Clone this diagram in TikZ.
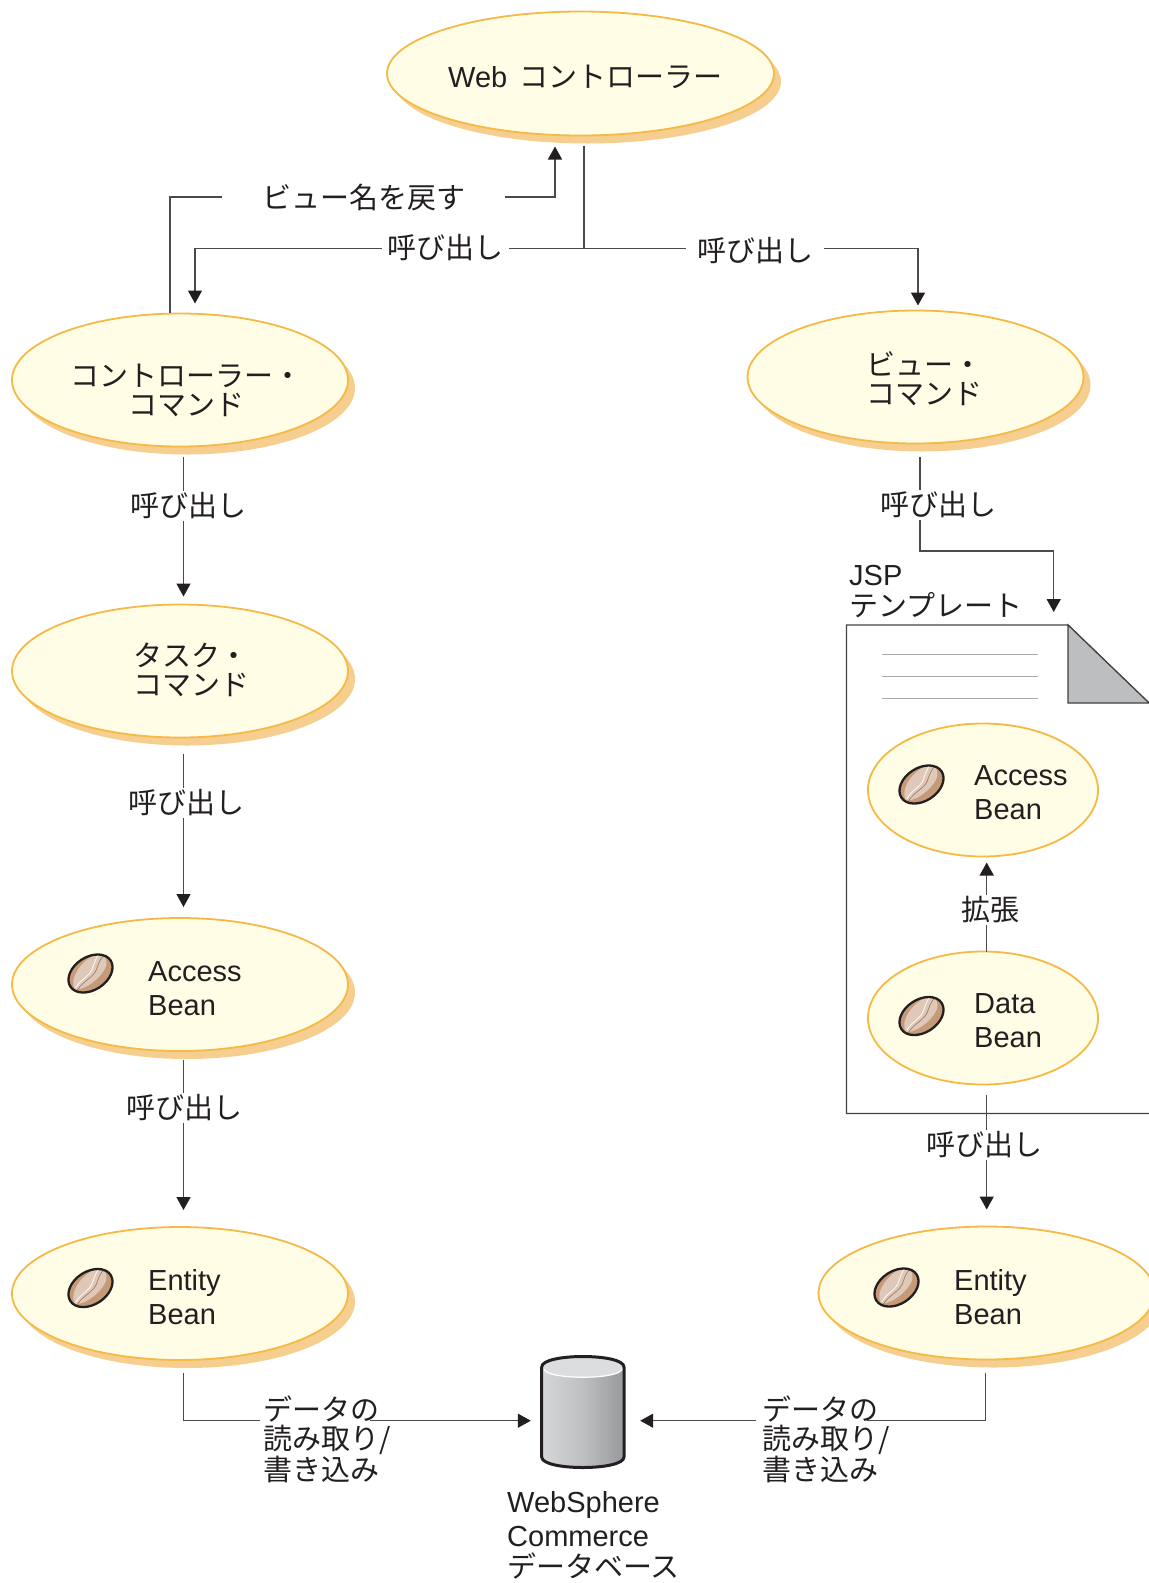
\documentclass[tikz,border=0pt]{standalone}
\usepackage{fontspec}
\setmainfont{Liberation Sans}
\newfontfamily\cjk{Noto Sans CJK JP}
\usetikzlibrary{shapes.geometric,shadows,arrows.meta,calc}
\definecolor{inkc}{HTML}{231F20}
\definecolor{linec}{HTML}{4A4A4C}
\definecolor{ovalb}{HTML}{F5B945}
\definecolor{ovalf}{HTML}{FFFDE6}
\definecolor{ovals}{HTML}{F6CF90}
\definecolor{foldc}{HTML}{BCBEC0}
\definecolor{rulec}{HTML}{A7A9AC}
\definecolor{beand}{HTML}{C49A78}
\definecolor{beanl}{HTML}{DFC8B8}
\definecolor{cylL}{HTML}{D5D7D8}
\definecolor{cylM}{HTML}{BDBFC1}
\definecolor{cylR}{HTML}{97999C}
\definecolor{lidc}{HTML}{DCDDDE}
\tikzset{
  oval/.style={ellipse,draw=ovalb,fill=ovalf,line width=1.8pt,inner sep=0pt,outer sep=0pt,
    minimum width=336pt,minimum height=133pt},
  ovalsh/.style={oval,general shadow={shadow xshift=7pt,shadow yshift=-8pt,fill=ovals}},
  inner oval/.style={oval,minimum width=230pt,minimum height=133pt},
  jp/.style={text=inkc,inner sep=0pt,font=\fontsize{29}{29}\selectfont\cjk},
  en/.style={text=inkc,inner sep=0pt,font=\fontsize{29}{34}\selectfont},
  call/.style={jp,fill=white,minimum height=30pt,inner xsep=0pt},
  conn/.style={draw=linec,line width=1.4pt},
  arr/.style={conn,-{Triangle[length=13pt,width=14pt,color=inkc]}},
  pic bean/.pic={
    \begin{scope}[rotate=33]
      \fill[beand] (0,0) ellipse [x radius=24,y radius=16.5];
      \fill[beanl] (-22,5) .. controls (-20,-10) and (4,-17) .. (18,-12)
        .. controls (24,-5) and (20,3) .. (10,6)
        .. controls (0,10) and (-15,10) .. (-22,5) -- cycle;
      \draw[white!85!beanl,line width=.9pt] (-20,4) .. controls (-10,-1) and (-3,2) .. (4,-3) .. controls (9,-7) and (13,-10) .. (18,-12);
      \draw[beand!70!inkc,line width=.6pt] (-21,7) .. controls (-10,2) and (0,5) .. (7,0) .. controls (12,-4) and (16,-7) .. (21,-8);
      \draw[inkc,line width=2.3pt] (0,0) ellipse [x radius=24,y radius=16.5];
    \end{scope}
  }
}
\begin{document}
\begin{tikzpicture}[x=1pt,y=-1pt]
\useasboundingbox (0,0) rectangle (1149,1583);
% JSP page
\draw[draw=inkc!85,line width=1.4pt,fill=white] (1149,1113.5) -- (846.5,1113.5) -- (846.5,625) -- (1068,625) -- (1149,703);
\draw[draw=inkc!85,line width=1.2pt,fill=foldc] (1068,625) -- (1068,703) -- (1149,703) -- cycle;
\draw[rulec,line width=1pt] (882,654.5) -- (1038,654.5) (882,676.5) -- (1038,676.5) (882,698) -- (1038,698);
% ovals
\node[ovalsh,minimum width=387pt,minimum height=124pt] (web) at (580.5,73.5) {};
\node[ovalsh] (ctrl) at (180,380) {};
\node[ovalsh] (view) at (915.5,377) {};
\node[ovalsh] (task) at (180,671) {};
\node[ovalsh] (accl) at (180,984.5) {};
\node[ovalsh] (entl) at (180,1293.5) {};
\node[ovalsh] (entr) at (986.5,1293) {};
\node[inner oval] (accr) at (983,790) {};
\node[inner oval] (data) at (983,1018) {};
% oval text
\node[en,anchor=west] (webt) at (448,77) {Web\hspace{12pt}{\cjk\fontsize{29}{29}\selectfont コントローラー}};
\node[jp,align=center] (ctrlt) at (186.5,390) {コントローラー・\\コマンド};
\node[jp,align=left,anchor=west] (viewt) at (866,379) {ビュー・\\コマンド};
\node[jp,align=left,anchor=west] (taskt) at (133,670) {タスク・\\コマンド};
\node[en,align=left,anchor=west] (acclt) at (148,989) {Access\\Bean};
\node[en,align=left,anchor=west] (entlt) at (148,1297) {Entity\\Bean};
\node[en,align=left,anchor=west] (entrt) at (954,1297) {Entity\\Bean};
\node[en,align=left,anchor=west] (accrt) at (974,793) {Access\\Bean};
\node[en,align=left,anchor=west] (datat) at (974,1021) {Data\\Bean};
% beans
\pic at (90.5,973.5) {pic bean};
\pic at (90.5,1288) {pic bean};
\pic at (896.5,1287.5) {pic bean};
\pic at (921.5,784.5) {pic bean};
\pic at (921.5,1016) {pic bean};
% database
\node[inner sep=0pt,minimum width=82pt,minimum height=110pt] (db) at (583,1412) {};
\shade[left color=cylL,right color=cylR,middle color=cylM] (541.7,1367) -- (541.7,1457)
  .. controls (541.7,1471) and (624,1471) .. (624,1457) -- (624,1367) -- cycle;
\fill[lidc] (541.7,1367) .. controls (541.7,1353) and (624,1353) .. (624,1367)
  .. controls (624,1381) and (541.7,1381) .. (541.7,1367) -- cycle;
\draw[white,line width=1.2pt] (544,1369) .. controls (546,1380) and (620,1380) .. (622,1369);
\draw[inkc,line width=3pt,line join=round] (541.7,1367) .. controls (541.7,1353) and (624,1353) .. (624,1367)
  -- (624,1457) .. controls (624,1471) and (541.7,1471) .. (541.7,1457) -- cycle;
\node[en,anchor=north west,align=left] (dbt) at (507,1491) {WebSphere\\Commerce\\[-3pt]{\cjk\fontsize{29}{29}\selectfont データベース}};
% connectors
\coordinate (top) at ($(web.south)+(3.5,10)$);
\coordinate (junc) at ($(web.south)+(3.5,113)$);
\draw[conn] (top) -- (junc);
\draw[arr] (junc) -| ($(ctrl.north)+(15,-10)$);
\draw[arr] (junc) -| ($(view.north)+(2.5,-5)$);
\node[call,minimum width=127pt] (c1) at (445,248) {呼び出し};
\node[call,minimum width=138pt] (c2) at (755,251) {呼び出し};
\coordinate (retm) at (363.5,197);
\draw[arr] ($(ctrl.north)+(-10,-1)$) |- (retm) -| ($(web.south)+(-25.5,11)$);
\node[call,minimum width=283pt] (c3) at (retm) {ビュー名を戻す};
\draw[arr] ($(ctrl.south)+(3.5,10)$) -- ($(task.north)+(3.5,-8)$);
\node[call,minimum width=116pt] (c4) at (188,506) {呼び出し};
\draw[arr] ($(task.south)+(3.5,16)$) -- ($(accl.north)+(3.5,-11)$);
\node[call,minimum width=116pt] (c5) at (186,803) {呼び出し};
\draw[arr] ($(accl.south)+(3.5,9)$) -- ($(entl.north)+(3.5,-17)$);
\node[call,minimum width=116pt] (c6) at (184,1108) {呼び出し};
\coordinate (vbend) at (920,551);
\draw[arr] ($(view.south)+(4.5,13)$) |- (vbend) -| (1053.7,612);
\node[call,minimum width=116pt] (c7) at (938,505) {呼び出し};
\draw[arr] ($(data.north)+(3.7,0)$) -- ($(accr.south)+(3.7,6)$);
\node[call,minimum width=60pt] (c8) at (990.7,909.5) {拡張};
\draw[arr] ($(data.south)+(3.7,10)$) -- ($(entr.north)+(0.2,-17)$);
\node[call,minimum width=116pt] (c9) at (984,1145) {呼び出し};
% read/write
\coordinate (rwla) at (260,1420.7);
\coordinate (rwlb) at (370,1420.7);
\coordinate (rwra) at (756,1420.7);
\coordinate (rwrb) at (866.7,1420.7);
\draw[conn] ($(entl.south)+(3.3,13)$) |- (rwla);
\draw[arr] (rwlb) -- ($(db.west |- rwlb)+(-11,0)$);
\draw[conn] ($(entr.south)+(-0.8,13)$) |- (rwrb);
\draw[arr] (rwra) -- ($(db.east |- rwra)+(16,0)$);
\node[jp,align=left,anchor=west,font=\fontsize{29}{29.5}\selectfont\cjk] (rwl) at (263,1439) {データの\\読み取り/\\書き込み};
\node[jp,align=left,anchor=west,font=\fontsize{29}{29.5}\selectfont\cjk] (rwr) at (762.7,1439) {データの\\読み取り/\\書き込み};
% JSP label
\node[en,anchor=west,align=left] (jsp) at (849,592) {JSP\\[-3pt]{\cjk\fontsize{29}{29}\selectfont テンプレート}};
\end{tikzpicture}
\end{document}
